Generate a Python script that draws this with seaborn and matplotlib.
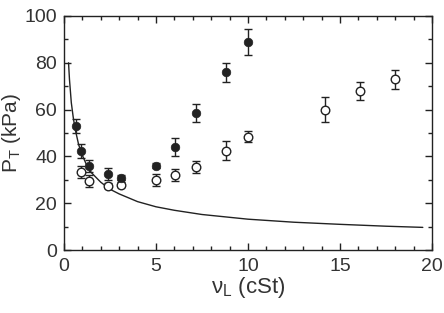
import numpy as np
import pandas as pd
import matplotlib
matplotlib.use("Agg")
import matplotlib.pyplot as plt
import seaborn as sns
from matplotlib.ticker import MultipleLocator

# --- dados ---
x_cheio = [0.63, 0.95, 1.35, 2.4, 3.1, 5.0, 6.05, 7.2, 8.8, 10.0]
y_cheio = [53, 42.5, 36, 32.5, 31, 36, 44, 58.5, 76, 89]
e_cheio = [3, 3, 2.5, 2.5, 1, 1, 4, 4, 4, 5.5]

x_aberto = [0.95, 1.35, 2.4, 3.1, 5.0, 6.05, 7.2, 8.8, 10.0, 14.2, 16.1, 18.0]
y_aberto = [33.5, 29.5, 27.5, 28, 30, 32, 35.5, 42.5, 48.5, 60, 68, 73]
e_aberto = [2.5, 2.5, 1, 1, 2.5, 2.5, 2.5, 4, 2.5, 5.5, 4, 4]

# curva teórica
x_curva = [0.25, 0.3, 0.4, 0.5, 0.6, 0.8, 1.0, 1.25, 1.5, 2.0, 2.5, 3.0, 4.0, 5.0, 6.0,
           7.5, 10.0, 12.5, 15.0, 17.5, 19.5]
y_curva = [80, 73, 63, 57, 52, 45, 40.5, 36, 33, 29, 26, 24, 20.7, 18.5, 17,
           15.2, 13.2, 11.9, 11.0, 10.2, 9.7]

df_cheio = pd.DataFrame({'nu': x_cheio, 'P': y_cheio, 'err': e_cheio})
df_aberto = pd.DataFrame({'nu': x_aberto, 'P': y_aberto, 'err': e_aberto})
df_curva = pd.DataFrame({'nu': x_curva, 'P': y_curva})

sns.set_style("ticks")
plt.rcParams['font.family'] = ['Liberation Sans', 'DejaVu Sans']
cor = '#222222'

fig = plt.figure(figsize=(4.44, 3.13), dpi=100)
ax = fig.add_axes([0.144, 0.201, 0.829, 0.748])

sns.lineplot(data=df_curva, x='nu', y='P', color=cor, lw=1.0, ax=ax)

ax.errorbar(df_aberto['nu'], df_aberto['P'], yerr=df_aberto['err'], fmt='none',
            ecolor=cor, elinewidth=1.0, capsize=3, capthick=1.0)
ax.errorbar(df_cheio['nu'], df_cheio['P'], yerr=df_cheio['err'], fmt='none',
            ecolor=cor, elinewidth=1.0, capsize=3, capthick=1.0)
sns.scatterplot(data=df_aberto, x='nu', y='P', marker='o', s=38, facecolor='white',
                edgecolor=cor, linewidth=1.0, ax=ax, zorder=3)
sns.scatterplot(data=df_cheio, x='nu', y='P', marker='o', s=38, color=cor,
                edgecolor=cor, linewidth=0.5, ax=ax, zorder=4)

ax.set_xlim(0, 20)
ax.set_ylim(0, 100)
ax.xaxis.set_major_locator(MultipleLocator(5))
ax.xaxis.set_minor_locator(MultipleLocator(1))
ax.yaxis.set_major_locator(MultipleLocator(20))
ax.yaxis.set_minor_locator(MultipleLocator(10))
ax.tick_params(which='both', direction='in', top=True, right=True, color=cor,
               labelcolor='#333333', labelsize=14, width=1.0)
ax.tick_params(which='major', length=5)
ax.tick_params(which='minor', length=3)
ax.tick_params(axis='x', which='major', pad=6)
ax.tick_params(axis='y', which='major', pad=5)
for s in ax.spines.values():
    s.set_color(cor)
    s.set_linewidth(1.0)

ax.set_xlabel(r'$\mathregular{\nu_L}$ (cSt)', fontsize=16, color='#333333', labelpad=0)
ax.set_ylabel(r'P$_\mathregular{T}$ (kPa)', fontsize=15, color='#333333')
ax.yaxis.set_label_coords(-0.112, 0.5)

fig.savefig('out.png', dpi=100)
